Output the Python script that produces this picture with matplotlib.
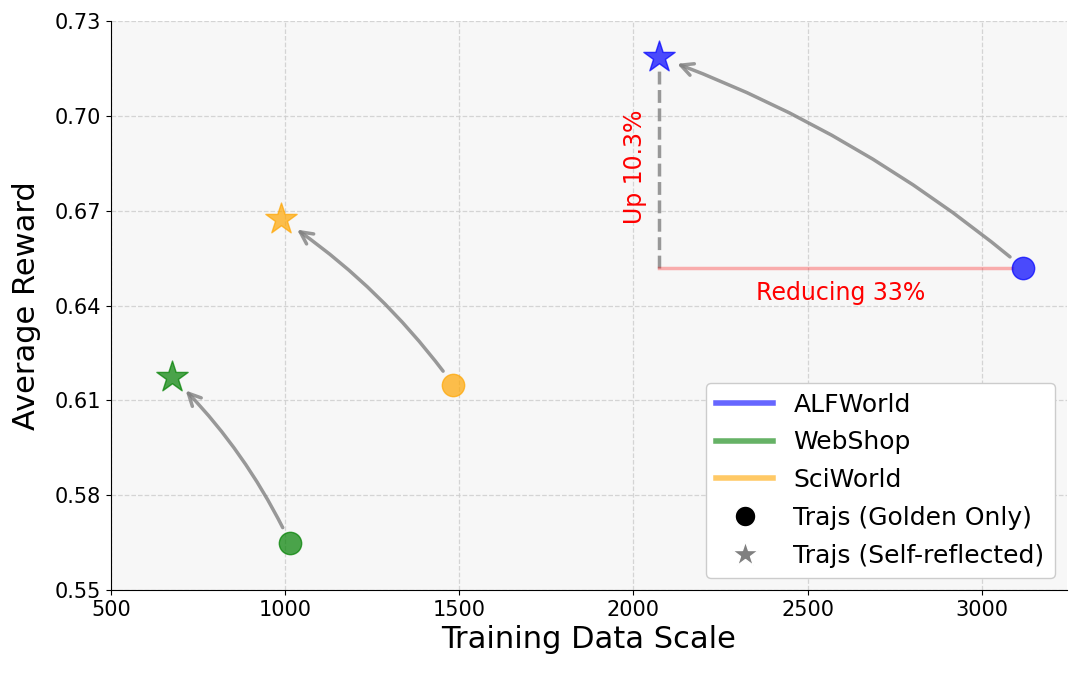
import matplotlib
matplotlib.use("Agg")
import matplotlib.pyplot as plt
from matplotlib.lines import Line2D

datasets = ["ALFWorld", "WebShop", "SciWorld"]
colors = ["blue", "green", "orange"]
golden_x = [3118, 1014, 1482]
golden_y = [0.652, 0.565, 0.615]
reflect_x = [2073, 675, 988]
reflect_y = [0.7186, 0.6175, 0.6675]
yticks = [0.55, 0.58, 0.61, 0.64, 0.67, 0.70, 0.73]
xticks = [500, 1000, 1500, 2000, 2500, 3000]

fig = plt.figure(figsize=(10.79, 6.73), dpi=100)
ax = fig.add_axes([0.1029, 0.1233, 0.886, 0.8455])
ax.set_facecolor("#f7f7f7")

for i, name in enumerate(datasets):
    ax.scatter(golden_x[i], golden_y[i], s=260, color=colors[i], alpha=0.7,
               marker="o", edgecolors=colors[i], zorder=3)
    ax.scatter(reflect_x[i], reflect_y[i], s=560, color=colors[i], alpha=0.7,
               marker="*", edgecolors=colors[i], zorder=3)
    ax.annotate("", xy=(reflect_x[i], reflect_y[i]), xytext=(golden_x[i], golden_y[i]),
                arrowprops=dict(arrowstyle="->", color="gray", lw=2.5, alpha=0.8,
                                connectionstyle="arc3,rad=0.09",
                                shrinkA=12, shrinkB=14, mutation_scale=22),
                zorder=2)

# ALFWorld annotation lines
ax.plot([reflect_x[0], reflect_x[0]], [golden_y[0], reflect_y[0] - 0.004], color="gray",
        linestyle="--", lw=2.5, alpha=0.8, zorder=2)
ax.plot([reflect_x[0], golden_x[0] - 30], [golden_y[0], golden_y[0]], color="red",
        lw=2.5, alpha=0.3, zorder=2)
ax.text(reflect_x[0] - 68, (golden_y[0] + reflect_y[0]) / 2 - 0.0015, "Up 10.3%", color="red",
        fontsize=17, rotation=90, ha="center", va="center")
ax.text((reflect_x[0] + golden_x[0]) / 2, golden_y[0] - 0.008, "Reducing 33%", color="red",
        fontsize=17, ha="center", va="center")

ax.set_xlim(500, 3245)
ax.set_ylim(0.55, 0.73)
ax.set_xticks(xticks)
ax.set_yticks(yticks)
ax.set_yticklabels([f"{v:.2f}" for v in yticks])
ax.tick_params(labelsize=15)
ax.set_xlabel("Training Data Scale", fontsize=22)
ax.set_ylabel("Average Reward", fontsize=22, labelpad=10)
ax.grid(True, linestyle="--", color="#cccccc", alpha=0.8, lw=0.9)
ax.set_axisbelow(True)
ax.spines["top"].set_visible(False)
ax.spines["right"].set_visible(False)

handles = [Line2D([0], [0], color=c, lw=4, alpha=0.6) for c in colors]
handles.append(Line2D([0], [0], marker="o", color="w", markerfacecolor="black",
                      markersize=15, lw=0))
handles.append(Line2D([0], [0], marker="*", color="w", markerfacecolor="gray",
                      markersize=19, lw=0))
labels = datasets + ["Trajs (Golden Only)", "Trajs (Self-reflected)"]
ax.legend(handles, labels, loc="lower right", fontsize=18, framealpha=1.0,
          edgecolor="#cccccc", handlelength=2.3, labelspacing=0.55)

fig.savefig("out.png", dpi=100)
